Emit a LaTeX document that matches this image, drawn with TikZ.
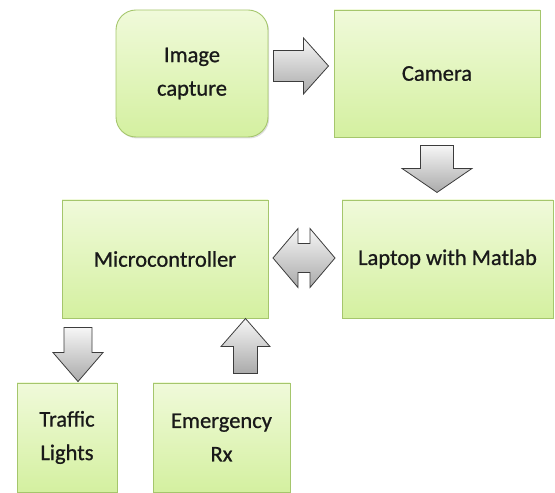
\documentclass[tikz,border=0pt]{standalone}
\usepackage{fontspec}
\setmainfont{Carlito}
\newfontfamily\boxfont[FakeBold=0.8]{Carlito}
\usetikzlibrary{calc,shadows}
\definecolor{boxtop}{RGB}{240,250,218}
\definecolor{boxbot}{RGB}{212,240,160}
\definecolor{boxline}{RGB}{165,198,108}
\definecolor{arrtop}{RGB}{246,246,246}
\definecolor{arrbot}{RGB}{170,170,170}
\definecolor{arrline}{RGB}{60,60,60}
\tikzset{
  greenbox/.style={draw=boxline, line width=0.9pt, top color=boxtop, bottom color=boxbot,
    align=center, inner sep=2pt, text=black!90,
    font=\boxfont\fontsize{22.5}{33.5}\selectfont,
    drop shadow={shadow xshift=1.2pt, shadow yshift=-1.5pt, opacity=0.25}},
  blockarrow/.style={draw=arrline, line width=0.8pt, top color=arrtop, bottom color=arrbot, line join=miter}
}
\begin{document}
\begin{tikzpicture}[x=1pt,y=1pt]
\useasboundingbox (0,0) rectangle (555,493);
\node[greenbox, rounded corners=20pt, minimum width=152pt, minimum height=127pt] (cap) at (192,419.5) {Image\\capture};
\node[greenbox, minimum width=206pt, minimum height=127pt] (cam) at (437,419.5) {Camera};
\node[greenbox, minimum width=206pt, minimum height=118pt] (mc) at (165,234) {Microcontroller};
\node[greenbox, minimum width=211pt, minimum height=118pt] (lap) at (447.5,234) {Laptop with Matlab};
\node[greenbox, minimum width=100pt, minimum height=109pt] (tl) at (67,55.5) {Traffic\\Lights};
\node[greenbox, minimum width=137pt, minimum height=109pt] (em) at (221.5,55.5) {Emergency\\Rx};
% Image capture -> Camera
\coordinate (m1) at ($($(cap.east)!0.5!(cam.west)$)+(0,7.5)$);
\draw[blockarrow] ($(m1)+(-27.5,15.5)$) -- ($(m1)+(2.5,15.5)$) -- ($(m1)+(2.5,28)$) -- ($(m1)+(27.5,0)$)
  -- ($(m1)+(2.5,-28)$) -- ($(m1)+(2.5,-15.5)$) -- ($(m1)+(-27.5,-15.5)$) -- cycle;
% Camera -> Laptop
\coordinate (m2) at (cam.south);
\draw[blockarrow] ($(m2)+(-16.5,-8)$) -- ($(m2)+(16.5,-8)$) -- ($(m2)+(16.5,-31)$) -- ($(m2)+(35,-31)$)
  -- ($(m2)+(0,-55)$) -- ($(m2)+(-35,-31)$) -- ($(m2)+(-16.5,-31)$) -- cycle;
% Microcontroller <-> Laptop
\coordinate (m3) at ($(mc.east)!0.5!(lap.west)+(-1,1)$);
\draw[blockarrow] ($(m3)+(-31,0)$) -- ($(m3)+(-6,29.5)$) -- ($(m3)+(-6,14.5)$) -- ($(m3)+(6,14.5)$)
  -- ($(m3)+(6,29.5)$) -- ($(m3)+(31,0)$) -- ($(m3)+(6,-29.5)$) -- ($(m3)+(6,-14.5)$)
  -- ($(m3)+(-6,-14.5)$) -- ($(m3)+(-6,-29.5)$) -- cycle;
% Microcontroller -> Traffic Lights
\coordinate (m4) at ($(tl.north)+(11,0)$);
\draw[blockarrow] ($(m4)+(-14,55)$) -- ($(m4)+(14,55)$) -- ($(m4)+(14,30)$) -- ($(m4)+(25,30)$)
  -- ($(m4)+(0,1)$) -- ($(m4)+(-25,30)$) -- ($(m4)+(-14,30)$) -- cycle;
% Emergency Rx -> Microcontroller
\coordinate (m5) at ($(em.north)+(24,0)$);
\draw[blockarrow] ($(m5)+(-12,9)$) -- ($(m5)+(12,9)$) -- ($(m5)+(12,36)$) -- ($(m5)+(24.5,36)$)
  -- ($(m5)+(0,64)$) -- ($(m5)+(-24.5,36)$) -- ($(m5)+(-12,36)$) -- cycle;
\end{tikzpicture}
\end{document}
